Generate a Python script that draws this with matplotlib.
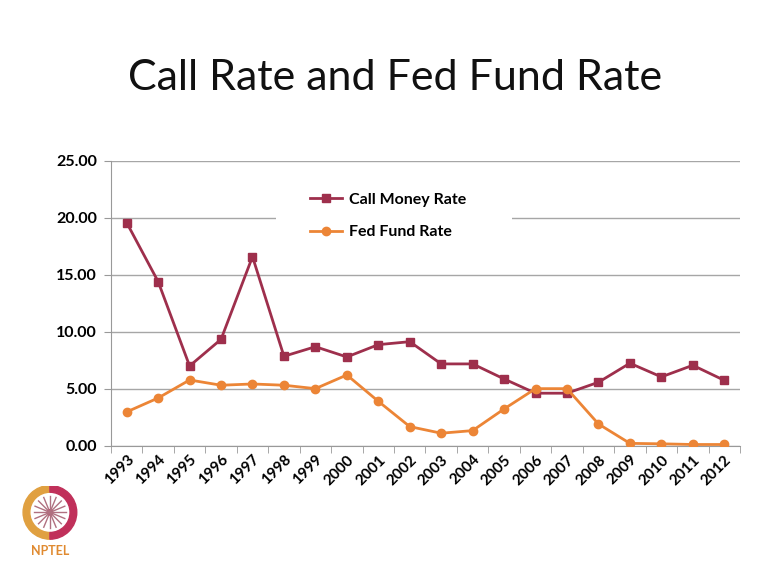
import matplotlib.pyplot as plt
import numpy as np
from matplotlib.patches import Circle, Rectangle, Wedge

plt.rcParams["font.family"] = ["Lato", "DejaVu Sans"]

YEARS = [str(y) for y in range(1993, 2013)]
CALL_MONEY = [19.56, 14.39, 6.99, 9.33, 16.58, 7.84, 8.68, 7.78, 8.86, 9.12,
              7.17, 7.17, 5.85, 4.60, 4.60, 5.56, 7.23, 6.03, 7.05, 5.73]
FED_FUND = [2.96, 4.18, 5.76, 5.30, 5.41, 5.30, 5.00, 6.20, 3.89, 1.67,
            1.09, 1.32, 3.22, 5.00, 5.00, 1.90, 0.20, 0.16, 0.10, 0.10]

CALL_COLOR = "#9E2F4C"
FED_COLOR = "#EC8536"

fig = plt.figure(figsize=(7.68, 5.78), dpi=100)
fig.text(0.515, 0.865, "Call Rate and Fed Fund Rate", ha="center", va="center",
         fontsize=31, color="#111111")

ax = fig.add_axes([0.1445, 0.229, 0.819, 0.493])
x = np.arange(len(YEARS))
ax.plot(x, CALL_MONEY, "s-", color=CALL_COLOR, linewidth=2, markersize=6,
        label="Call Money Rate", zorder=3)
ax.plot(x, FED_FUND, "o-", color=FED_COLOR, linewidth=2, markersize=6,
        label="Fed Fund Rate", zorder=3)

ax.set_xlim(-0.5, len(YEARS) - 0.5)
ax.set_ylim(0, 25)
ax.set_yticks(np.arange(0, 25.1, 5))
ax.set_yticklabels([f"{v:.2f}" for v in np.arange(0, 25.1, 5)],
                   fontsize=11.5, fontweight="bold")
ax.set_xticks(x)
ax.set_xticklabels(YEARS, rotation=45, ha="right", rotation_mode="anchor",
                   fontsize=11, fontweight="bold")
ax.tick_params(axis="x", length=0, pad=5)
ax.set_xticks(np.arange(-0.5, len(YEARS)), minor=True)
ax.tick_params(axis="x", which="minor", length=5, color="#999999")
ax.tick_params(axis="y", length=5, color="#999999", pad=5)
ax.yaxis.grid(True, color="#a6a6a6", linewidth=1)
ax.set_axisbelow(True)
for side in ["top", "right"]:
    ax.spines[side].set_visible(False)
for side in ["left", "bottom"]:
    ax.spines[side].set_color("#999999")

# white legend area covering the gridline, as in the original slide
ax.add_patch(Rectangle((0.262, 0.69), 0.376, 0.26, transform=ax.transAxes,
                       facecolor="white", edgecolor="none", zorder=1))
leg = ax.legend(loc="upper left", bbox_to_anchor=(0.316, 0.888), frameon=False,
                prop={"weight": "bold", "size": 11.5}, handlelength=2.0,
                handletextpad=0.45, borderpad=0, borderaxespad=0,
                labelspacing=1.15)

# NPTEL logo (rough)
lax = fig.add_axes([0.02, 0.03, 0.09, 0.13])
lax.set_xlim(-1.2, 1.2)
lax.set_ylim(-1.6, 1.2)
lax.set_aspect("equal")
lax.axis("off")
lax.add_patch(Wedge((0, 0.2), 1.0, 90, 270, width=0.25, color="#E0A040"))
lax.add_patch(Wedge((0, 0.2), 1.0, 270, 90, width=0.25, color="#C0305A"))
for a in np.linspace(0, np.pi, 8, endpoint=False):
    lax.plot([0.6 * np.cos(a), -0.6 * np.cos(a)],
             [0.2 + 0.6 * np.sin(a), 0.2 - 0.6 * np.sin(a)],
             color="#B07080", linewidth=1)
lax.add_patch(Circle((0, 0.2), 0.1, color="#C0305A"))
lax.text(0, -1.25, "NPTEL", ha="center", va="center", fontsize=9,
         fontweight="bold", color="#E08A30")

fig.savefig("out.png", dpi=100)
